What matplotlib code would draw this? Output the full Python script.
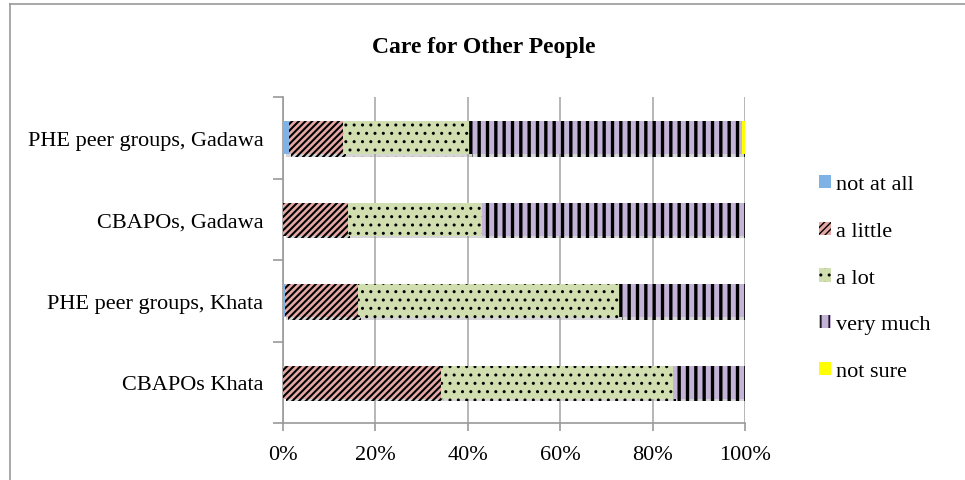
import numpy as np
import matplotlib.pyplot as plt
from matplotlib.lines import Line2D
from matplotlib.patches import Patch
import matplotlib.patheffects as pe

# ----- dados
grupos = ['CBAPOs Khata', 'PHE peer groups, Khata', 'CBAPOs, Gadawa', 'PHE peer groups, Gadawa']
categorias = ['not at all', 'a little', 'a lot', 'very much', 'not sure']
not_at_all = [0.0, 0.5, 0.0, 1.2]
a_little = [34.1, 15.8, 14.0, 11.8]
a_lot = [50.4, 56.4, 29.0, 27.2]
very_much = [15.5, 27.3, 57.0, 59.1]
not_sure = [0.0, 0.0, 0.0, 0.7]

cores = ['#7fb2e5', '#e5a8a4', '#d1dfb0', '#c3b4d7', '#ffff00']
hachuras = [None, '/////', '..', '||', None]
espessuras = [1.0, 1.5, 1.0, 2.4, 1.0]

plt.rcParams['font.family'] = ['Liberation Serif', 'DejaVu Serif']

fig = plt.figure(figsize=(9.65, 4.81), dpi=100)
ax = fig.add_axes([283 / 965, 1 - 424 / 481, 462 / 965, 326 / 481])

# moldura do gráfico (cortada à direita e embaixo)
fig.add_artist(Line2D([9.5 / 965, 9.5 / 965], [0, 1 - 4.5 / 481], transform=fig.transFigure, color='#999999', lw=1.2))
fig.add_artist(Line2D([9.5 / 965, 1], [1 - 4.5 / 481, 1 - 4.5 / 481], transform=fig.transFigure, color='#999999', lw=1.2))

y = np.arange(len(grupos))
series = [not_at_all, a_little, a_lot, very_much, not_sure]
esquerda = np.zeros(len(grupos))
sombra = [pe.SimplePatchShadow(offset=(2, -2), shadow_rgbFace='#888888', alpha=0.35), pe.Normal()]
handles = []
for nome, valores, cor, hach, esp in zip(categorias, series, cores, hachuras, espessuras):
    with plt.rc_context({'hatch.linewidth': esp}):
        barras = ax.barh(y, valores, left=esquerda, height=0.4, color=cor, hatch=hach,
                         edgecolor='black', linewidth=0, zorder=3)
        handles.append(Patch(facecolor=cor, hatch=hach, edgecolor='black', linewidth=0))
    for b in barras:
        b.set_path_effects(sombra)
    esquerda += np.array(valores)

ax.set_xlim(0, 100)
ax.set_ylim(-0.5, len(grupos) - 0.5)
ax.set_xticks(np.arange(0, 101, 20))
ax.set_xticklabels([f'{v}%' for v in range(0, 101, 20)], fontsize=16)
ax.set_yticks(y)
ax.set_yticklabels(grupos, fontsize=16)
ax.set_yticks(np.arange(-0.5, len(grupos)), minor=True)
ax.tick_params(axis='y', which='major', length=0, pad=14)
ax.tick_params(axis='y', which='minor', length=7, color='#999999', width=1.2)
ax.tick_params(axis='x', length=6, color='#999999', width=1.2, pad=10)
ax.grid(axis='x', color='#aaaaaa', lw=1.2, zorder=0)
for lado in ['top', 'right']:
    ax.spines[lado].set_visible(False)
for lado in ['left', 'bottom']:
    ax.spines[lado].set_color('#999999')
    ax.spines[lado].set_linewidth(1.2)

fig.text(484 / 965, 1 - 47 / 481, 'Care for Other People', ha='center', va='center',
         fontsize=17, fontweight='bold')

fig.legend(handles, categorias, loc='center left', bbox_to_anchor=(819 / 965, 1 - 279 / 481),
           frameon=False, fontsize=16, handlelength=0.55, handleheight=0.55, handletextpad=0.2,
           labelspacing=1.22, borderpad=0, borderaxespad=0)

fig.savefig('out.png', dpi=100)
